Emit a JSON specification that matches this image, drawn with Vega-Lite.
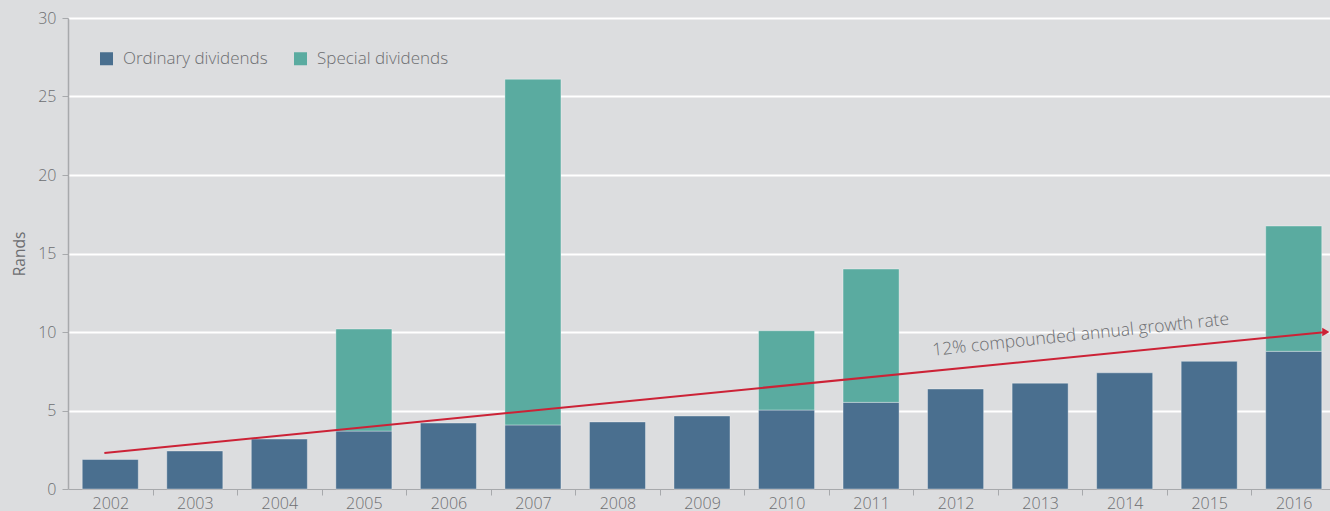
{
  "$schema": "https://vega.github.io/schema/vega-lite/v6.json",
  "autosize": {"type": "none"},
  "width": 1262,
  "height": 471,
  "padding": {"left": 68, "top": 18, "right": 0, "bottom": 22},
  "background": "#dcdddf",
  "config": {
    "view": {"stroke": null},
    "font": "Open Sans",
    "axis": {"labelFont": "Open Sans", "titleFont": "Open Sans", "labelColor": "#6d6e71", "titleColor": "#6d6e71", "domainColor": "#a7a9ac", "tickColor": "#a7a9ac"}
  },
  "datasets": {
    "dividends": [
      {"year": "2002", "type": "Ordinary dividends", "value": 1.88},
      {"year": "2003", "type": "Ordinary dividends", "value": 2.42},
      {"year": "2004", "type": "Ordinary dividends", "value": 3.18},
      {"year": "2005", "type": "Ordinary dividends", "value": 3.69},
      {"year": "2005", "type": "Special dividends", "value": 6.5},
      {"year": "2006", "type": "Ordinary dividends", "value": 4.2},
      {"year": "2007", "type": "Ordinary dividends", "value": 4.08},
      {"year": "2007", "type": "Special dividends", "value": 22.02},
      {"year": "2008", "type": "Ordinary dividends", "value": 4.27},
      {"year": "2009", "type": "Ordinary dividends", "value": 4.65},
      {"year": "2010", "type": "Ordinary dividends", "value": 5.03},
      {"year": "2010", "type": "Special dividends", "value": 5.05},
      {"year": "2011", "type": "Ordinary dividends", "value": 5.52},
      {"year": "2011", "type": "Special dividends", "value": 8.49},
      {"year": "2012", "type": "Ordinary dividends", "value": 6.37},
      {"year": "2013", "type": "Ordinary dividends", "value": 6.74},
      {"year": "2014", "type": "Ordinary dividends", "value": 7.4},
      {"year": "2015", "type": "Ordinary dividends", "value": 8.13},
      {"year": "2016", "type": "Ordinary dividends", "value": 8.77},
      {"year": "2016", "type": "Special dividends", "value": 7.98}
    ],
    "trend": [
      {"t": 2001.93, "v": 2.29},
      {"t": 2016.36, "v": 9.99}
    ],
    "arrow": [
      {"t": 2016.38, "v": 10.0}
    ],
    "note": [
      {"t": 2013.48, "v": 9.8, "label": "12% compounded annual growth rate"}
    ]
  },
  "layer": [
    {
      "data": {"name": "dividends"},
      "mark": {"type": "bar", "strokeWidth": 1, "strokeOpacity": 0.35, "stroke": "#ffffff"},
      "encoding": {
        "x": {
          "field": "year", "type": "nominal",
          "scale": {"range": [0, 1268], "paddingInner": 0.337, "paddingOuter": 0.1685},
          "axis": {"title": null, "labelAngle": 0, "labelFontSize": 16, "labelPadding": 0, "tickSize": 6, "tickOffset": 42.25, "labelOffset": -42.25, "domainWidth": 1.5, "labelFontWeight": 300}
        },
        "y": {
          "field": "value", "type": "quantitative", "stack": "zero",
          "scale": {"domain": [0, 30], "nice": false},
          "axis": {"title": "Rands", "titleFontSize": 15.5, "titleFontWeight": "normal", "titlePadding": 10, "values": [0, 5, 10, 15, 20, 25, 30], "labelFontSize": 16, "labelPadding": 6, "tickSize": 6, "grid": true, "gridColor": "#ffffff", "gridWidth": 2, "domainWidth": 1.5, "labelFontWeight": 300}
        },
        "color": {
          "field": "type", "type": "nominal",
          "scale": {"domain": ["Ordinary dividends", "Special dividends"], "range": ["#4a6f8f", "#5aaba0"]},
          "legend": {"title": null, "orient": "none", "legendX": 30, "legendY": 32, "direction": "horizontal", "symbolType": "square", "symbolSize": 169, "symbolStrokeWidth": 0, "labelFontSize": 17, "labelColor": "#6d6e71", "labelFont": "Open Sans", "labelFontWeight": 300, "labelOffset": 8, "columnPadding": 24, "padding": 0}
        },
        "order": {"field": "type", "sort": "ascending"}
      }
    },
    {
      "data": {"name": "trend"},
      "mark": {"type": "line", "color": "#cc2236", "strokeWidth": 2},
      "encoding": {
        "x": {"field": "t", "type": "quantitative", "scale": {"domain": [2001.5, 2016.5], "range": [0, 1268], "nice": false, "zero": false}, "axis": null},
        "y": {"field": "v", "type": "quantitative"}
      }
    },
    {
      "data": {"name": "arrow"},
      "mark": {"type": "point", "shape": "triangle-right", "filled": true, "color": "#cc2236", "size": 70, "opacity": 1},
      "encoding": {
        "x": {"field": "t", "type": "quantitative", "scale": {"domain": [2001.5, 2016.5], "range": [0, 1268], "nice": false, "zero": false}, "axis": null},
        "y": {"field": "v", "type": "quantitative"}
      }
    },
    {
      "data": {"name": "note"},
      "mark": {"type": "text", "angle": -6, "fontSize": 17.5, "color": "#6d6e71", "font": "Open Sans", "fontWeight": 300, "align": "center", "baseline": "middle"},
      "encoding": {
        "x": {"field": "t", "type": "quantitative", "scale": {"domain": [2001.5, 2016.5], "range": [0, 1268], "nice": false, "zero": false}, "axis": null},
        "y": {"field": "v", "type": "quantitative"},
        "text": {"field": "label"}
      }
    }
  ],
  "resolve": {"scale": {"x": "independent"}}
}
